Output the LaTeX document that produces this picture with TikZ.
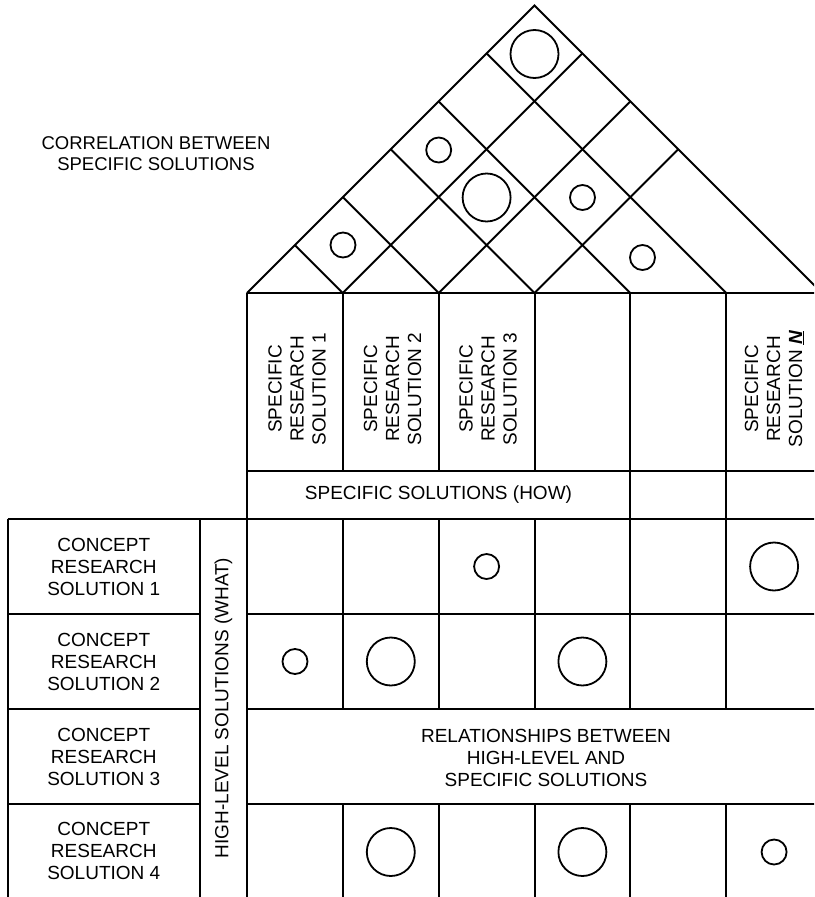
\documentclass[tikz,border=0pt]{standalone}
\usepackage{fontspec}
\setmainfont{Liberation Sans}
\begin{document}
\begin{tikzpicture}[x=1pt,y=-1pt,
  grid/.style={line width=2pt,line cap=butt,line join=miter},
  lbl/.style={font=\fontsize{19}{22}\selectfont,align=center,inner sep=0pt},
  bigdot/.style={circle,draw,line width=1.8pt,minimum size=48pt,inner sep=0pt},
  smalldot/.style={circle,draw,line width=1.8pt,minimum size=25pt,inner sep=0pt}]
\useasboundingbox (0,0) rectangle (814,897);
\clip (0,0) rectangle (814,897);
% column boundaries of the matrix and the roof
\def\xa{247}\def\xb{342.8}\def\xc{438.7}\def\xd{534.5}\def\xe{630.3}\def\xf{726.2}\def\xg{822}
\def\xl{7.5}\def\xw{200}
% roof outline
\draw[grid] (\xa,293) -- (534.5,5.5) -- (\xg,293);
% roof diagonals rising to the right edge
\foreach \k in {\xb,\xc,\xd}
  \draw[grid] (\k,293) -- ({(822+\k)/2},{293-(822-\k)/2});
% roof diagonals falling from the left edge
\foreach \k in {\xb,\xc,\xd,\xe,\xf}
  \draw[grid] ({(247+\k)/2},{293-(\k-247)/2}) -- (\k,293);
% horizontal rules
\draw[grid] (\xa,293) -- (\xg,293);
\draw[grid] (\xa,471) -- (\xg,471);
\draw[grid] (\xl,519) -- (\xg,519);
\foreach \y in {614,709,804}{
  \draw[grid] (\xl,\y) -- (\xw,\y);
  \draw[grid] (\xa,\y) -- (\xg,\y);
}
% vertical rules
\draw[grid] (\xl,519) -- (\xl,900);
\draw[grid] (\xw,519) -- (\xw,900);
\draw[grid] (\xa,293) -- (\xa,900);
\draw[grid] (\xg,293) -- (\xg,900);
\foreach \k in {\xb,\xc,\xd}{
  \draw[grid] (\k,293) -- (\k,471);
  \draw[grid] (\k,519) -- (\k,709);
  \draw[grid] (\k,804) -- (\k,900);
}
\foreach \k in {\xe,\xf}{
  \draw[grid] (\k,293) -- (\k,709);
  \draw[grid] (\k,804) -- (\k,900);
}
% correlation marks in the roof
\node[bigdot]   (r1) at (534.5,54) {};
\node[smalldot] (r2) at (438.7,150) {};
\node[bigdot]   (r3) at (486.6,197.5) {};
\node[smalldot] (r4) at (582.5,197.5) {};
\node[smalldot] (r5) at (343,245) {};
\node[smalldot] (r6) at (642.5,257.5) {};
% relationship marks in the matrix
\node[smalldot] (m13) at (486.6,566.5) {};
\node[bigdot]   (m16) at (774.1,566.5) {};
\node[smalldot] (m21) at (295,661.5) {};
\node[bigdot]   (m22) at (390.8,661.5) {};
\node[bigdot]   (m24) at (582.4,661.5) {};
\node[bigdot]   (m42) at (390.8,852) {};
\node[bigdot]   (m44) at (582.4,852) {};
\node[smalldot] (m46) at (774.1,852) {};
% labels
\node[lbl,font=\fontsize{18.5}{21}\selectfont] (corr) at (156,154) {CORRELATION BETWEEN\\SPECIFIC SOLUTIONS};
\node[lbl,rotate=90] (s1) at (297,389) {SPECIFIC\\RESEARCH\\SOLUTION 1};
\node[lbl,rotate=90] (s2) at (392.5,389) {SPECIFIC\\RESEARCH\\SOLUTION 2};
\node[lbl,rotate=90] (s3) at (488,389) {SPECIFIC\\RESEARCH\\SOLUTION 3};
\node[lbl,rotate=90] (sn) at (774.5,389) {SPECIFIC\\RESEARCH\\SOLUTION \underline{\textbf{\textit{N}}}};
\node[lbl] (how) at (438.5,495) {SPECIFIC SOLUTIONS (HOW)};
\node[lbl,rotate=90] (what) at (223.5,708) {HIGH-LEVEL SOLUTIONS (WHAT)};
\node[lbl] (c1) at (103.75,566.5) {CONCEPT\\RESEARCH\\SOLUTION 1};
\node[lbl] (c2) at (103.75,661.5) {CONCEPT\\RESEARCH\\SOLUTION 2};
\node[lbl] (c3) at (103.75,756.5) {CONCEPT\\RESEARCH\\SOLUTION 3};
\node[lbl] (c4) at (103.75,851) {CONCEPT\\RESEARCH\\SOLUTION 4};
\node[lbl] (rel) at (546,758) {RELATIONSHIPS BETWEEN\\HIGH-LEVEL AND\\SPECIFIC SOLUTIONS};
\end{tikzpicture}
\end{document}
